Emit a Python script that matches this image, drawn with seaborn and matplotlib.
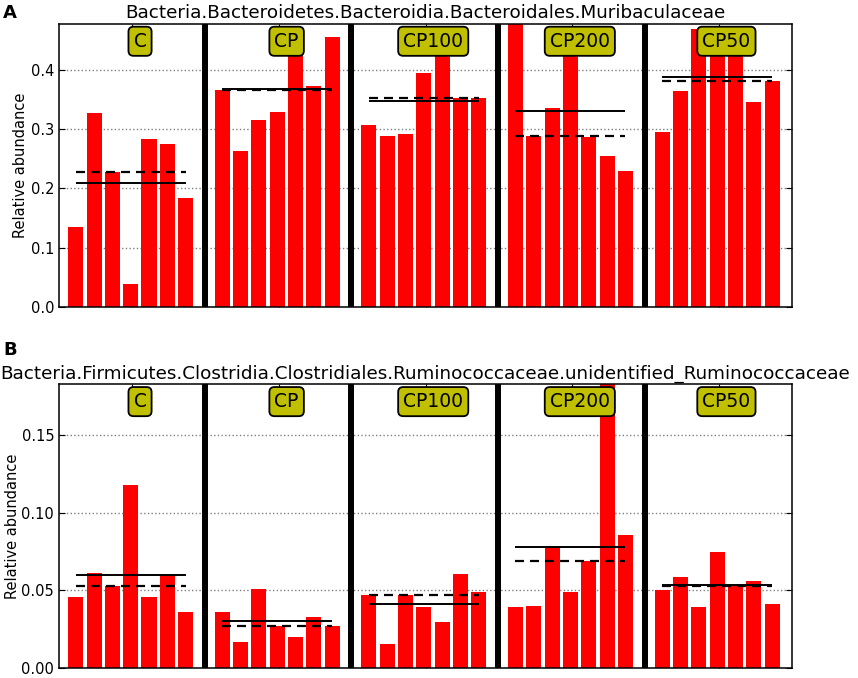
import numpy as np
import pandas as pd
import seaborn as sns
import matplotlib
matplotlib.use('Agg')
import matplotlib.pyplot as plt
import matplotlib.transforms as mtransforms

# Grupos de tratamiento (7 muestras por grupo)
groups = ['C', 'CP', 'CP100', 'CP200', 'CP50']

# Panel A: Muribaculaceae, abundancia relativa por muestra
a_c = [0.134, 0.327, 0.2275, 0.038, 0.284, 0.274, 0.183]
a_cp = [0.366, 0.2635, 0.316, 0.329, 0.472, 0.372, 0.4545]
a_cp100 = [0.307, 0.2876, 0.291, 0.395, 0.440, 0.353, 0.353]
a_cp200 = [0.477, 0.2888, 0.335, 0.438, 0.2865, 0.255, 0.2298]
a_cp50 = [0.2955, 0.364, 0.468, 0.430, 0.426, 0.345, 0.381]

# Panel B: unidentified_Ruminococcaceae
b_c = [0.0456, 0.061, 0.0528, 0.1175, 0.0458, 0.0595, 0.0362]
b_cp = [0.0364, 0.0167, 0.0511, 0.0272, 0.0201, 0.0332, 0.0272]
b_cp100 = [0.0473, 0.0156, 0.0473, 0.0392, 0.030, 0.0603, 0.049]
b_cp200 = [0.0392, 0.040, 0.0783, 0.0492, 0.0689, 0.1825, 0.0858]
b_cp50 = [0.0501, 0.0588, 0.0394, 0.0747, 0.0528, 0.0561, 0.0411]

title_a = 'Bacteria.Bacteroidetes.Bacteroidia.Bacteroidales.Muribaculaceae'
title_b = 'Bacteria.Firmicutes.Clostridia.Clostridiales.Ruminococcaceae.unidentified_Ruminococcaceae'

sns.set_style('white')
plt.rcParams['font.family'] = ['DejaVu Sans']
plt.rcParams['lines.scale_dashes'] = False
# Texto en negro puro (seaborn usa gris oscuro)
for k in ['text.color', 'axes.labelcolor', 'xtick.color', 'ytick.color']:
    plt.rcParams[k] = 'black'


def make_df(series):
    rows = []
    for g, vals in enumerate(series):
        for i, v in enumerate(vals):
            rows.append({'group': groups[g], 'pos': 8 * g + i + 0.91, 'value': v})
    return pd.DataFrame(rows)


def draw_panel(ax, series, title, labelpad):
    df = make_df(series)
    sns.barplot(data=df, x='pos', y='value', native_scale=True, width=0.82,
                color='red', saturation=1, linewidth=0, errorbar=None, ax=ax)
    ymax = df['value'].max()
    ax.set_xlim(0, 40)
    ax.set_ylim(0, ymax)

    # Media (línea sólida) y mediana (discontinua) por grupo
    for g, vals in enumerate(series):
        x0 = 8 * g + 0.91
        x1 = 8 * g + 6.91
        ax.hlines(np.mean(vals), x0, x1, color='black', lw=1.4, zorder=4)
        ax.hlines(np.median(vals), x0, x1, color='black', lw=1.6,
                  linestyles=(0, (6.5, 4.3)), zorder=4)

    # Separadores entre grupos
    for g in range(1, 5):
        ax.axvline(8 * g - 0.05, color='black', lw=4.3, zorder=5)

    # Etiquetas de grupo
    trans = mtransforms.blended_transform_factory(ax.transData, ax.transAxes)
    for g, name in enumerate(groups):
        ax.text(8 * g + 4.42, 0.939, name, transform=trans, ha='center', va='center',
                fontsize=13.5, color='black', zorder=6,
                bbox=dict(boxstyle='round,pad=0.27', fc='#c0c000', ec='black', lw=1.3))

    ax.set_xticks([8 * g + 4 for g in range(5)])
    ax.set_xticklabels([])
    ax.set_xlabel('')
    ax.set_ylabel('Relative abundance', fontsize=10.5, labelpad=labelpad)
    ax.tick_params(direction='in', length=4, width=0.8, top=True, right=True,
                   bottom=True, left=True, labelsize=10.5, colors='black')
    ax.yaxis.grid(True, linestyle=':', color='#808080', lw=1)
    ax.set_axisbelow(True)
    for s in ax.spines.values():
        s.set_color('black')
        s.set_linewidth(1.1)
    ax.set_title(title, fontsize=13.2, pad=4.3)


fig = plt.figure(figsize=(8.58, 6.78), dpi=100)
ax_a = fig.add_axes([0.0688, 0.5472, 0.8543, 0.4174])
ax_b = fig.add_axes([0.0688, 0.0143, 0.8543, 0.4189])

draw_panel(ax_a, [a_c, a_cp, a_cp100, a_cp200, a_cp50], title_a, 2)
draw_panel(ax_b, [b_c, b_cp, b_cp100, b_cp200, b_cp50], title_b, 1)
ax_a.set_yticks([0.0, 0.1, 0.2, 0.3, 0.4])
ax_b.set_yticks([0.0, 0.05, 0.10, 0.15])
ax_a.set_yticklabels(['0.0', '0.1', '0.2', '0.3', '0.4'])
ax_b.set_yticklabels(['0.00', '0.05', '0.10', '0.15'])

fig.text(3 / 858, 1 - 18 / 678, 'A', fontsize=13, fontweight='bold', va='baseline')
fig.text(3 / 858, 1 - 355 / 678, 'B', fontsize=13, fontweight='bold', va='baseline')

fig.savefig('out.png', dpi=100)
